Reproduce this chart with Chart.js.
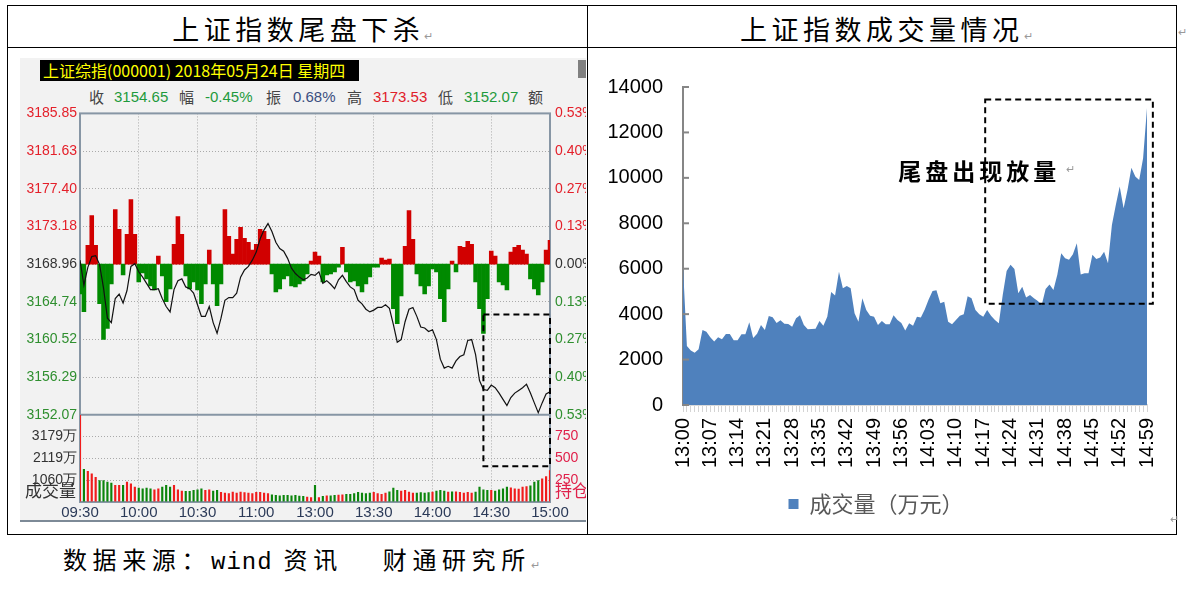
<!DOCTYPE html>
<html>
<head>
<meta charset="utf-8">
<script src="https://cdn.jsdelivr.net/npm/chart.js@4.4.1/dist/chart.umd.min.js"></script>
<style>
  body { margin: 0; width: 1188px; height: 591px; background: #fff; position: relative; overflow: hidden;
         font-family: "Noto Sans CJK SC", sans-serif; }
  .abs { position: absolute; }
  #frame { left: 7px; top: 5px; width: 1170px; height: 530px; border: 1px solid #000; box-sizing: border-box; }
  #vline { left: 587px; top: 5px; width: 1px; height: 530px; background: #000; }
  #hline { left: 7px; top: 47px; width: 1170px; height: 1px; background: #000; }
  .title { top: 11px; height: 36px; line-height: 36px; text-align: center; font-size: 27px; letter-spacing: 4.5px; color: #000; }
  .pm { font-size: 11px; color: #999; }
  #panel { left: 20px; top: 58px; width: 566px; height: 462px; background: #f2f2f2; border-bottom: 2px solid #7d8a97; }
  #stock { left: 40px; top: 60px; width: 319px; height: 21px; background: #000; color: #ffff00; font-size: 16px;
           line-height: 21px; padding-left: 3px; box-sizing: border-box; white-space: nowrap; }
  #icon { left: 578px; top: 60px; width: 8px; height: 18px; background: #808080; }
  .info { top: 87px; height: 20px; line-height: 20px; font-size: 15px; white-space: nowrap; }
  .num { font-family: "Liberation Sans", sans-serif; }
  #footer { left: 63px; top: 541px; font-size: 24px; letter-spacing: 5.6px; color: #000; white-space: nowrap; }
  #footer .en { font-family: "Liberation Mono", monospace; letter-spacing: 1px; }
  #footer .gap { display: inline-block; width: 40px; }
</style>
</head>
<body>
<div id="frame" class="abs"></div>
<div id="vline" class="abs"></div>
<div id="hline" class="abs"></div>
<div class="abs title" style="left:9px;width:592px;">上证指数尾盘下杀<span class="pm">↵</span></div>
<div class="abs title" style="left:594px;width:589px;">上证指数成交量情况<span class="pm">↵</span></div>
<div class="abs pm" style="left:1178px;top:23px;">↵</div>

<div id="panel" class="abs"></div>
<div id="stock" class="abs">上证综指(000001) 2018年05月24日 星期四</div>
<div id="icon" class="abs"></div>
<div class="abs info" style="left:89px;color:#444;">收</div>
<div class="abs info num" style="left:114px;color:#1e9a3c;">3154.65</div>
<div class="abs info" style="left:179px;color:#444;">幅</div>
<div class="abs info num" style="left:205px;color:#1e9a3c;">-0.45%</div>
<div class="abs info" style="left:266px;color:#444;">振</div>
<div class="abs info num" style="left:293px;color:#3b4f80;">0.68%</div>
<div class="abs info" style="left:347px;color:#444;">高</div>
<div class="abs info num" style="left:373px;color:#e0202a;">3173.53</div>
<div class="abs info" style="left:438px;color:#444;">低</div>
<div class="abs info num" style="left:464px;color:#1e9a3c;">3152.07</div>
<div class="abs info" style="left:528px;color:#444;">额</div>

<canvas id="left" class="abs" width="566" height="422" style="left:20px;top:100px;"></canvas>
<canvas id="right" class="abs" width="582" height="470" style="left:595px;top:55px;"></canvas>
<div class="abs pm" style="left:1066px;top:160px;">↵</div>
<div class="abs pm" style="left:1170px;top:510px;">↵</div>

<div id="footer" class="abs">数据来源：<span class="en">wind</span> 资讯<span class="gap"></span>财通研究所<span class="pm">↵</span></div>

<script>
// ---- 左图：上证综指分时 2018-05-24（每2分钟读一点，09:30起，共240分钟）----
const timeTicks = ['09:30', '10:00', '10:30', '11:00', '13:00', '13:30', '14:00', '14:30', '15:00'];
const priceTicks = [3152.07, 3156.29, 3160.52, 3164.74, 3168.96, 3173.18, 3177.40, 3181.63, 3185.85];
const prevClose = 3168.96;
const volTicks = [0, 1060, 2119, 3179];
const holdTicks = [0, 250, 500, 750];

const price = [
  3169.4, 3166.6, 3168.6, 3169.8, 3169.9, 3168.9, 3166.3, 3162.9, 3162.4, 3165.1,
  3165.6, 3164.6, 3166.0, 3168.7, 3169.0, 3168.1, 3167.5, 3166.8, 3166.1, 3166.1,
  3166.2, 3165.1, 3164.2, 3163.6, 3166.1, 3167.1, 3167.3, 3166.4, 3166.2, 3165.7,
  3164.4, 3163.1, 3163.1, 3164.2, 3162.4, 3161.2, 3162.9, 3164.9, 3165.2, 3165.2,
  3165.7, 3167.5, 3168.3, 3168.7, 3169.4, 3170.3, 3171.8, 3172.8, 3173.5, 3172.6,
  3171.4, 3170.7, 3170.4, 3169.6, 3168.5, 3167.9, 3167.5, 3167.2, 3167.4, 3167.8,
  3167.7, 3168.1, 3166.8, 3167.1, 3166.7, 3166.2, 3167.2, 3167.7, 3167.0, 3166.4,
  3166.1, 3164.9, 3164.5, 3163.9, 3163.6, 3163.8, 3164.1, 3164.1, 3164.4, 3164.0,
  3162.2, 3160.2, 3160.5, 3162.5, 3163.9, 3164.1, 3163.1, 3161.9, 3161.8, 3161.4,
  3161.6, 3160.5, 3158.3, 3157.3, 3157.5, 3157.3, 3158.1, 3158.6, 3158.8, 3160.4,
  3160.5, 3158.8, 3155.9, 3154.9, 3154.8, 3155.4, 3155.1, 3154.5, 3153.8, 3153.1,
  3154.0, 3154.5, 3154.8, 3155.1, 3155.5, 3154.5, 3153.4, 3152.3, 3153.4, 3154.4,
  3154.65
];

// 红绿柱（以像素高度计，向上为正）
const strength = [
  -30, -48, 19, 49, 19, -40, -76, -65, -20, 55,
  35, -11, 30, 65, 30, -18, -9, -15, -22, -26,
  8, -12, -38, -25, 20, 48, 30, -12, -25, -18,
  -26, -40, -20, 14, -20, -42, -20, 55, 28, 10,
  25, 37, 26, 22, 14, 20, 35, 33, 25, -10,
  -28, -25, -15, -12, -22, -23, -20, -17, -10, 3,
  12, 8, -18, -11, -10, -8, -3, 17, -8, -18,
  -17, -22, -28, -20, -13, -3, -3, 6, 4, 5,
  -45, -60, -32, 18, 54, 25, -10, -22, -30, -22,
  -5, -8, -35, -58, -25, 3, -8, 18, 17, 23,
  20, -18, -45, -70, -35, 13, 8, -18, -21, -26,
  12, 17, 19, 14, 10, -15, -25, -31, -18, 14,
  24
];

// 成交量（万）
const volume = [
  4238, 1600, 1510, 1380, 1220, 1060, 1060, 980, 930, 820,
  820, 820, 980, 900, 740, 690, 660, 690, 660, 610,
  660, 740, 820, 740, 820, 610, 550, 530, 530, 580,
  610, 660, 580, 610, 550, 580, 480, 450, 420, 500,
  450, 500, 470, 450, 420, 480, 480, 450, 420, 370,
  340, 320, 340, 340, 320, 340, 300, 290, 260, 230,
  820, 230, 290, 320, 320, 340, 350, 370, 390, 390,
  420, 480, 450, 420, 450, 480, 420, 390, 450, 510,
  690, 580, 550, 580, 500, 450, 450, 470, 450, 470,
  500, 550, 580, 550, 500, 510, 510, 480, 450, 480,
  450, 500, 740, 610, 580, 580, 550, 610, 660, 740,
  710, 660, 640, 740, 770, 800, 980, 1060, 1140, 1250,
  1540
];

const leftBox = { from: 206, to: 240, priceTop: 3163.3, volBottom: 1735 };

// ---- 右图：13:00-14:59 每分钟成交量（万元）----
const turnover = [
  6100, 2600, 2400, 2300, 2450, 3300, 3230, 2980, 2800, 2980,
  2900, 3130, 3130, 2850, 2850, 3110, 3110, 3640, 2950, 3140,
  3520, 3300, 3920, 3860, 3610, 3730, 3580, 3570, 3450, 3820,
  3950, 3520, 3330, 3350, 3360, 3700, 3490, 3890, 4980, 4820,
  5870, 5140, 5240, 5140, 4040, 3670, 4700, 4180, 3930, 3880,
  3520, 3700, 3550, 3550, 3950, 3740, 3610, 3280, 3600, 3490,
  3890, 3850, 4200, 4650, 5020, 5050, 4480, 4550, 3670, 3550,
  3740, 3930, 3990, 4790, 4700, 4180, 3990, 3890, 4180, 3930,
  3740, 3600, 4840, 5900, 6170, 5990, 4920, 5210, 4730, 4840,
  4700, 4580, 4400, 5110, 5310, 5060, 5730, 6680, 6460, 6390,
  6640, 7120, 5750, 5800, 5800, 6610, 6430, 6490, 6750, 6240,
  7930, 8810, 9620, 8660, 9470, 10450, 10060, 9910, 10860, 13070
];
const minuteLabels = [];
for (let i = 0; i < turnover.length; i++) {
  const t = 13 * 60 + i;
  minuteLabels.push(Math.floor(t / 60) + ':' + String(t % 60).padStart(2, '0'));
}
const labelEvery = 7;
const noteText = '尾盘出现放量';
const note = { at: 55.2, value: 10300 };
const rightBox = { from: 77.5, to: 120.5, low: 4460, high: 13450 };

// ---------------- 左图 ----------------
const RED = '#d10000', GREEN = '#008a00', FRAME = '#8796a5', DOT = '#aaaaaa';
const TXT_RED = '#e4202a', TXT_GREEN = '#2f8f2f', TXT_MID = '#333333';
const xs = price.map((_, i) => i * 2);
const toXY = arr => arr.map((v, i) => ({ x: xs[i], y: v }));
const volColors = price.map((p, i) => (i === 0 || p >= price[i - 1]) ? '#f01c1c' : '#0b850b');
const pct = p => (p / prevClose - 1) * 100;
const sideColor = v => v > 1e-6 ? TXT_RED : (v < -1e-6 ? TXT_GREEN : TXT_MID);
const numFont = { family: 'Liberation Sans', size: 14 };

const leftDecor = {
  id: 'leftDecor',
  beforeDatasetsDraw(chart) {
    const { ctx, chartArea: a, scales } = chart;
    ctx.save();
    ctx.strokeStyle = FRAME;
    ctx.lineWidth = 2;
    ctx.strokeRect(a.left, a.top, a.width, a.height);
    const sy = scales.y.getPixelForValue(priceTicks[0]);
    ctx.beginPath();
    ctx.moveTo(a.left, sy);
    ctx.lineTo(a.right, sy);
    ctx.stroke();
    ctx.restore();
  },
  afterDatasetsDraw(chart) {
    const { ctx, scales } = chart;
    const x0 = scales.x.getPixelForValue(leftBox.from), x1 = scales.x.getPixelForValue(leftBox.to);
    const y0 = scales.y.getPixelForValue(leftBox.priceTop), y1 = scales.yVol.getPixelForValue(leftBox.volBottom);
    ctx.save();
    ctx.strokeStyle = '#000';
    ctx.lineWidth = 2;
    ctx.setLineDash([6, 4]);
    ctx.strokeRect(x0, y0, x1 - x0, y1 - y0);
    ctx.restore();
  },
  afterDraw(chart) {
    const { ctx, chartArea: a } = chart;
    ctx.save();
    ctx.font = '17px "Noto Sans CJK SC"';
    ctx.textBaseline = 'alphabetic';
    ctx.fillStyle = '#333';
    ctx.textAlign = 'right';
    ctx.fillText('成交量', a.left - 4, a.bottom - 5);
    ctx.fillStyle = '#e0204a';
    ctx.textAlign = 'left';
    ctx.fillText('持仓', a.right + 5, a.bottom - 5);
    ctx.restore();
  }
};

new Chart(document.getElementById('left'), {
  data: {
    datasets: [
      { type: 'line', data: toXY(price), yAxisID: 'y', borderColor: '#111', borderWidth: 1.2,
        pointRadius: 0, tension: 0, order: 0 },
      { type: 'bar', data: toXY(volume), yAxisID: 'yVol', grouped: false, order: 1,
        backgroundColor: volColors, barPercentage: 0.55, categoryPercentage: 1 },
      { type: 'bar', data: toXY(strength), yAxisID: 'yBar', grouped: false, order: 2,
        backgroundColor: c => (c.raw && c.raw.y >= 0) ? RED : GREEN, barPercentage: 1, categoryPercentage: 1 }
    ]
  },
  options: {
    responsive: false, animation: false, devicePixelRatio: 1,
    layout: { autoPadding: false, padding: { top: 10, left: 0, right: 0, bottom: 0 } },
    plugins: { legend: { display: false }, tooltip: { enabled: false } },
    scales: {
      x: {
        type: 'linear', min: 0, max: 240, offset: false,
        afterBuildTicks: s => { s.ticks = timeTicks.map((_, i) => ({ value: i * 30 })); },
        ticks: { callback: v => timeTicks[Math.round(v / 30)], color: '#2b3a58', autoSkip: false, maxRotation: 0,
                 font: { family: 'Liberation Sans', size: 15 }, padding: 2 },
        grid: { offset: false, color: c => (c.tick && (c.tick.value === 0 || c.tick.value === 240)) ? 'rgba(0,0,0,0)' : DOT,
                drawTicks: false, lineWidth: 1 },
        border: { display: false, dash: [1, 2] },
        afterFit: s => { s.height = 20; }
      },
      y: {
        position: 'left', stack: 'L', stackWeight: 304, weight: 1, min: priceTicks[0], max: priceTicks[8],
        afterBuildTicks: s => { s.ticks = priceTicks.map(v => ({ value: v })); },
        ticks: { callback: v => v.toFixed(2), color: c => sideColor(c.tick.value - prevClose), autoSkip: false,
                 font: numFont, padding: 3 },
        grid: { color: c => (c.index === 0 || c.index === priceTicks.length - 1) ? 'rgba(0,0,0,0)' : DOT,
                drawTicks: false },
        border: { display: false, dash: [1, 2] },
        afterFit: s => { s.width = 60; }
      },
      yVol: {
        position: 'left', stack: 'L', stackWeight: 88, weight: 0, min: 0, max: 4238,
        afterBuildTicks: s => { s.ticks = volTicks.map(v => ({ value: v })); },
        ticks: { callback: v => v === 0 ? '' : v + '万', color: TXT_MID, autoSkip: false, font: numFont, padding: 3 },
        grid: { color: c => c.index === 0 ? 'rgba(0,0,0,0)' : DOT, drawTicks: false },
        border: { display: false, dash: [1, 2] },
        afterFit: s => { s.width = 60; }
      },
      yBar: { position: 'left', display: false, min: -240, max: 152 },
      yPct: {
        position: 'right', stack: 'R', stackWeight: 304, weight: 0, min: pct(priceTicks[0]), max: pct(priceTicks[8]),
        afterBuildTicks: s => { s.ticks = priceTicks.map(v => ({ value: pct(v) })); },
        ticks: { callback: v => Math.abs(v).toFixed(2) + '%', color: c => sideColor(c.tick.value), autoSkip: false,
                 font: numFont, padding: 5 },
        grid: { drawOnChartArea: false, drawTicks: false },
        border: { display: false },
        afterFit: s => { s.width = 36; }
      },
      yPos: {
        position: 'right', stack: 'R', stackWeight: 88, weight: 1, min: 0, max: 1000,
        afterBuildTicks: s => { s.ticks = holdTicks.map(v => ({ value: v })); },
        ticks: { callback: v => v === 0 ? '' : String(v), color: '#e0204a', autoSkip: false, font: numFont, padding: 5 },
        grid: { drawOnChartArea: false, drawTicks: false },
        border: { display: false },
        afterFit: s => { s.width = 36; }
      }
    }
  },
  plugins: [leftDecor]
});

// ---------------- 右图 ----------------
const rightDecor = {
  id: 'rightDecor',
  afterDatasetsDraw(chart) {
    const { ctx, chartArea: a, scales: { x, y } } = chart;
    ctx.save();
    // y 轴内向刻度
    ctx.strokeStyle = '#868686';
    ctx.lineWidth = 2;
    y.ticks.forEach(t => {
      const py = y.getPixelForValue(t.value);
      ctx.beginPath();
      ctx.moveTo(a.left, py);
      ctx.lineTo(a.left + 6, py);
      ctx.stroke();
    });
    // 虚线框
    const x0 = x.getPixelForValue(rightBox.from), x1 = x.getPixelForValue(rightBox.to);
    const y0 = y.getPixelForValue(rightBox.high), y1 = y.getPixelForValue(rightBox.low);
    ctx.strokeStyle = '#000';
    ctx.setLineDash([6, 4]);
    ctx.strokeRect(x0, y0, x1 - x0, y1 - y0);
    ctx.setLineDash([]);
    // 注释
    ctx.font = 'bold 23px "Noto Sans CJK SC"';
    ctx.letterSpacing = '4px';
    ctx.fillStyle = '#000';
    ctx.textBaseline = 'middle';
    ctx.textAlign = 'left';
    ctx.fillText(noteText, x.getPixelForValue(note.at), y.getPixelForValue(note.value));
    ctx.restore();
  }
};

new Chart(document.getElementById('right'), {
  type: 'line',
  data: {
    labels: minuteLabels,
    datasets: [{
      label: '成交量（万元）', data: turnover, fill: 'origin',
      backgroundColor: '#4f81bd', borderColor: '#4f81bd', borderWidth: 0, pointRadius: 0, tension: 0
    }]
  },
  options: {
    responsive: false, animation: false, devicePixelRatio: 1,
    layout: { autoPadding: false, padding: { top: 20, right: 20, left: 0, bottom: 0 } },
    scales: {
      x: {
        ticks: { autoSkip: false, minRotation: 90, maxRotation: 90, color: '#000', padding: 6,
                 callback: (v, i) => i % labelEvery === 0 ? minuteLabels[i] : '',
                 font: { family: 'Liberation Sans', size: 20 } },
        grid: { drawOnChartArea: false, drawTicks: true, tickLength: 7, color: '#d4d4d4' },
        border: { color: '#d9d9d9', width: 2 },
        afterFit: s => { s.height = 78; }
      },
      y: {
        min: 0, max: 14000,
        ticks: { stepSize: 2000, color: '#000', padding: 20, callback: v => String(v),
                 font: { family: 'Liberation Sans', size: 20 } },
        grid: { drawOnChartArea: false, drawTicks: false },
        border: { color: '#868686', width: 2 },
        afterFit: s => { s.width = 88; }
      }
    },
    plugins: {
      legend: { position: 'bottom',
                labels: { boxWidth: 10, boxHeight: 10, padding: 10, color: '#595959',
                          font: { family: 'Noto Sans CJK SC', size: 22 } } },
      tooltip: { enabled: false }
    }
  },
  plugins: [rightDecor]
});
</script>
</body>
</html>
